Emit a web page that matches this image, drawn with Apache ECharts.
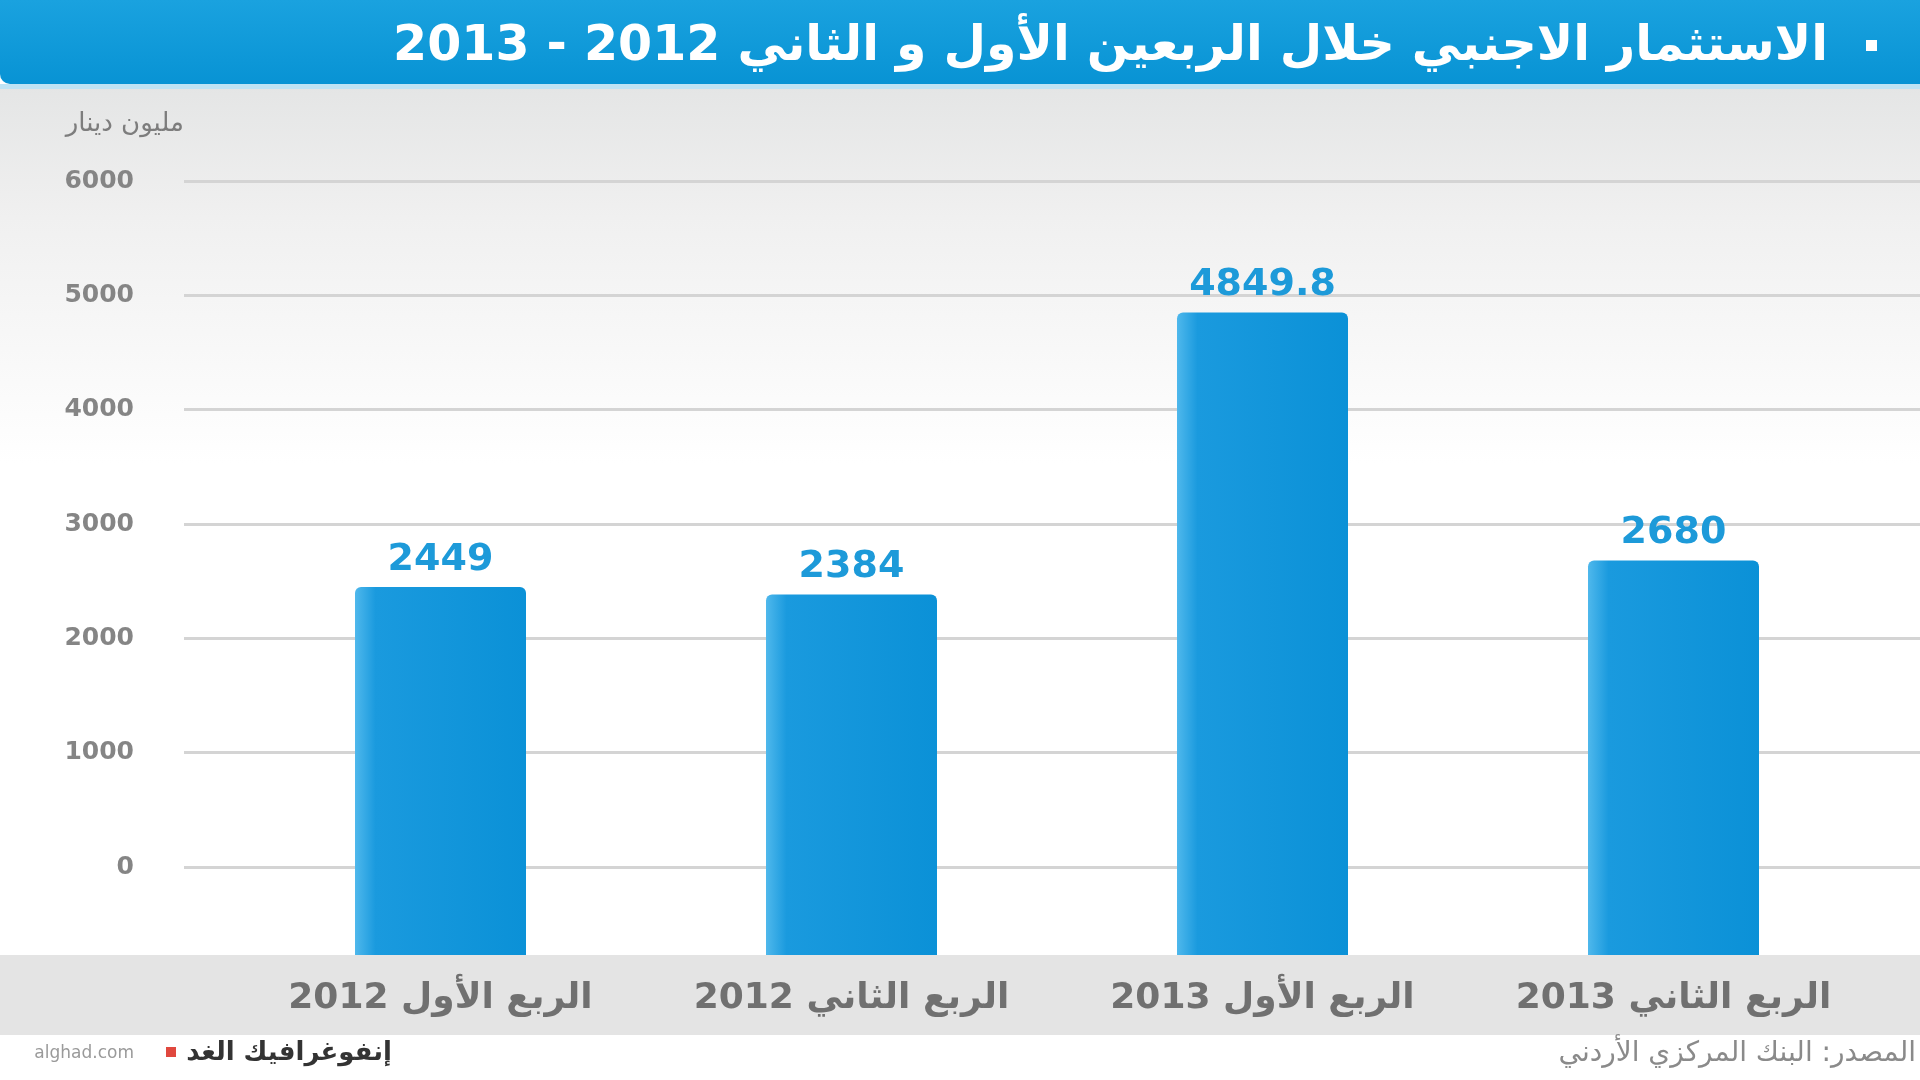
<!DOCTYPE html>
<html lang="ar" dir="rtl">
<head>
    <meta charset="UTF-8">
    <title>الاستثمار الاجنبي</title>
    <script src="https://cdn.jsdelivr.net/npm/echarts@6/dist/echarts.min.js"></script>
    <style>
        *{
            padding: 0;
            margin: 0;
        }
        html ,body{
            width: 100%;
            height: 100%;
            background: #fff;
        }
        .echarts{
            width: 1920px;
            height: 1080px;
        }
    </style>
</head>
<body>
<div class="echarts"></div>
<script>
    // data
    let categories=['الربع الأول 2012','الربع الثاني 2012','الربع الأول 2013','الربع الثاني 2013'];
    let values=[2449,2384,4849.8,2680];
    let yTicks=[0,1000,2000,3000,4000,5000,6000];
    let titleText='الاستثمار الاجنبي خلال الربعين الأول و الثاني 2012 - 2013';
    let unitText='مليون دينار';
    let sourceText='المصدر: البنك المركزي الأردني';

    // bars in the original run down past the zero line into the axis band
    let yFoot=-770;

    window.onload=function () {
        let main=document.querySelector('.echarts');
        let myCharts=echarts.init(main);
        let font='DejaVu Sans';
        let barColor={
            type:'linear',x:0,y:0,x2:1,y2:0,
            colorStops:[
                {offset:0,color:'#4fb8ec'},
                {offset:0.12,color:'#1a9ade'},
                {offset:1,color:'#0b91d7'}
            ]
        };

        let option={
            backgroundColor:'#fff',
            animation:false,
            textStyle:{fontFamily:font},
            graphic:[
                // soft grey wash under the title
                {type:'rect',z:-10,shape:{x:0,y:84,width:1920,height:380},
                    style:{fill:{type:'linear',x:0,y:0,x2:0,y2:1,colorStops:[
                        {offset:0,color:'#e4e5e5'},{offset:0.35,color:'#f0f0f0'},{offset:1,color:'#ffffff'}]}}},
                // title bar
                {type:'rect',z:10,shape:{x:0,y:0,width:1920,height:84,r:[0,0,0,10]},
                    style:{fill:{type:'linear',x:0,y:0,x2:0,y2:1,colorStops:[
                        {offset:0,color:'#1aa2df'},{offset:1,color:'#0893d4'}]}}},
                {type:'rect',z:10,shape:{x:0,y:84,width:1920,height:5},style:{fill:'#bfe3f4'}},
                {type:'rect',z:11,shape:{x:1866,y:40,width:11,height:11},style:{fill:'#fff'}},
                {type:'text',z:11,x:1828,y:47,style:{text:titleText,fill:'#fff',font:'bold 49px '+font,
                    textAlign:'right',textVerticalAlign:'middle'}},
                {type:'text',z:5,x:184,y:124,style:{text:unitText,fill:'#7d7d7d',font:'26px '+font,
                    textAlign:'right',textVerticalAlign:'middle'}},
                // axis band
                {type:'rect',z:-5,shape:{x:0,y:955,width:1920,height:80},style:{fill:'#e4e4e4'}},
                // footer
                {type:'text',z:5,x:1916,y:1054,style:{text:sourceText,fill:'#8a8a8a',font:'28px '+font,
                    textAlign:'right',textVerticalAlign:'middle'}},
                {type:'text',z:5,x:392,y:1053,style:{text:'إنفوغرافيك الغد',fill:'#333',font:'bold 26px '+font,
                    textAlign:'right',textVerticalAlign:'middle'}},
                {type:'rect',z:5,shape:{x:166,y:1047,width:10,height:10},style:{fill:'#e0483e'}},
                {type:'text',z:5,x:134,y:1054,style:{text:'alghad.com',fill:'#9a9a9a',font:'17px '+font,
                    textAlign:'right',textVerticalAlign:'middle'}}
            ],
            grid:[
                {left:184,right:0,top:181,bottom:213},
                {left:235,right:41,top:181,bottom:125}
            ],
            xAxis:[
                {type:'category',gridIndex:0,data:categories,show:false},
                {type:'category',gridIndex:1,data:categories,
                    axisLine:{show:false},axisTick:{show:false},
                    axisLabel:{margin:26,fontSize:36,fontWeight:'bold',color:'#707070',fontFamily:font}}
            ],
            yAxis:[
                {type:'value',gridIndex:0,min:yTicks[0],max:yTicks[yTicks.length-1],interval:1000,
                    axisLine:{show:false},axisTick:{show:false},
                    axisLabel:{margin:50,fontSize:25,fontWeight:'bold',color:'#858585',fontFamily:font,
                        formatter:v=>String(v)},
                    splitLine:{lineStyle:{color:'#d4d4d4',width:3}}},
                {type:'value',gridIndex:1,min:yFoot,max:yTicks[yTicks.length-1],show:false,
                    splitLine:{show:false}}
            ],
            series:[
                {
                    name:'foot',
                    type:'bar',
                    xAxisIndex:1,yAxisIndex:1,
                    stack:'q',
                    barWidth:171,
                    silent:true,
                    data:categories.map(()=>yFoot),
                    itemStyle:{color:barColor}
                },
                {
                    name:'value',
                    type:'bar',
                    xAxisIndex:1,yAxisIndex:1,
                    stack:'q',
                    barWidth:171,
                    data:values,
                    itemStyle:{color:barColor,borderRadius:[6,6,0,0]},
                    label:{
                        show:true,
                        position:'top',
                        distance:8,
                        fontSize:38,
                        fontWeight:'bold',
                        fontFamily:font,
                        color:'#1d9ad9'
                    }
                }
            ]
        };
        myCharts.setOption(option);
    }
</script>
</body>
</html>
